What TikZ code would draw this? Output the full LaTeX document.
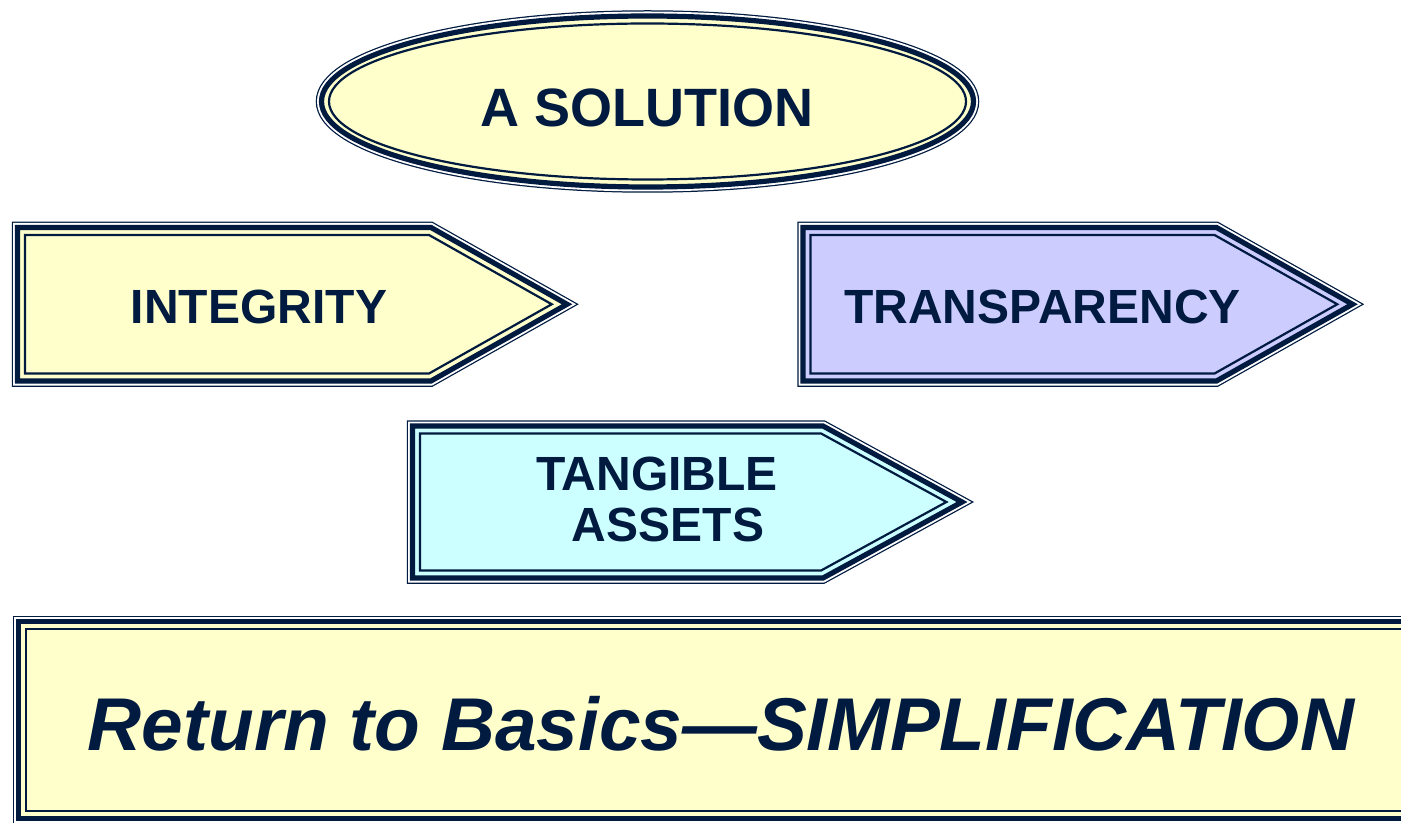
\documentclass[tikz,border=0pt]{standalone}
\usepackage{fontspec}
\setmainfont{Liberation Sans}
\definecolor{navy}{HTML}{001A40}
\definecolor{fillY}{HTML}{FFFFCC}
\definecolor{fillP}{HTML}{CCCCFF}
\definecolor{fillC}{HTML}{CCFFFF}
\newcommand\triplebox[3]{%
  \draw[line width=5.75pt, navy, line join=miter] #1;
  \draw[line width=4.5pt, white, line join=miter] #1;
  \fill[#3] #1;
  \draw[line width=2.6pt, navy, line join=miter] #1;
  \draw[line width=1.1pt, navy, line join=miter] #2;
}
\newcommand\arrowshape[6]{%
  \pgfmathsetmacro\ym{(#2+#5)/2}%
  \pgfmathsetmacro\th{atan2(\ym-#2,#4-#3)}%
  \pgfmathsetmacro\bxs{#3-7.5*sin(\th)+7.5*tan(\th/2)*cos(\th)}%
  \pgfmathsetmacro\bxt{#4-7.5/sin(\th)}%
  \triplebox{(#1,#2) -- (#3,#2) -- (#4,\ym) -- (#3,#5) -- (#1,#5) -- cycle}%
    {(#1+7.5,#2+7.5) -- (\bxs,#2+7.5) -- (\bxt,\ym) -- (\bxs,#5-7.5) -- (#1+7.5,#5-7.5) -- cycle}{#6}%
}
\tikzset{
  lbl/.style={text=navy, inner sep=0pt, anchor=base, font=\bfseries\fontsize{24}{28}\selectfont},
}
\begin{document}
\begin{tikzpicture}[x=0.5pt,y=-0.5pt]
\useasboundingbox (0,0) rectangle (1401,823);
\clip (0,0) rectangle (1401,823);
% ellipse
\triplebox{(647.5,101.5) ellipse (326 and 85.5)}{(647.5,101.5) ellipse (318.5 and 78)}{fillY}
% arrows
\arrowshape{17.5}{227.5}{431}{567}{381}{fillY}
\arrowshape{803}{227.5}{1216.5}{1352.5}{381}{fillP}
\arrowshape{412.5}{426}{823}{962}{578}{fillC}
% bottom box
\triplebox{(18.5,621.5) rectangle (1440,818.5)}{(26,629) rectangle (1440,811)}{fillY}
% texts
\node[lbl, font=\bfseries\fontsize{27}{32}\selectfont] (sol) at (647,127) {A SOLUTION};
\node[lbl] (int) at (259,324) {INTEGRITY};
\node[lbl] (tra) at (1042.5,324) {TRANSPARENCY};
\node[lbl] (tan1) at (657,490) {TANGIBLE};
\node[lbl] (tan2) at (668,541.7) {ASSETS};
\node[lbl, font=\bfseries\itshape\fontsize{37.4}{44}\selectfont] (ret) at (721,750) {Return to Basics—SIMPLIFICATION};
\end{tikzpicture}
\end{document}
